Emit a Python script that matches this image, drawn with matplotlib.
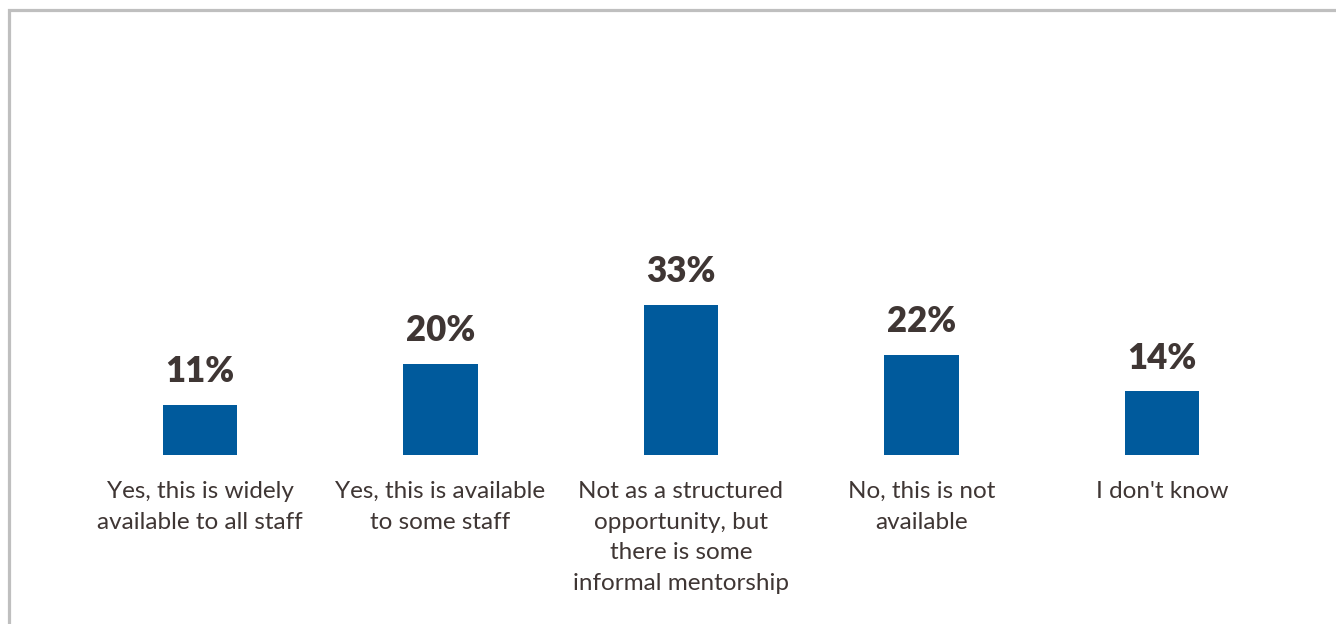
import matplotlib.pyplot as plt
from matplotlib.patches import Rectangle

categories = [
    "Yes, this is widely\navailable to all staff",
    "Yes, this is available\nto some staff",
    "Not as a structured\nopportunity, but\nthere is some\ninformal mentorship",
    "No, this is not\navailable",
    "I don't know",
]
values = [11, 20, 33, 22, 14]

bar_color = "#005A9C"
text_color = "#3F3634"

W, H = 1336, 624
fig = plt.figure(figsize=(W / 100, H / 100), dpi=100)
plt.rcParams['font.family'] = ['Lato', 'DejaVu Sans']

# axes placed in pixel terms: baseline at y=455, slots 240.5 px wide
ax_left = 200 - 240.5 / 2
ax_width = 240.5 * 5
ax_bottom = H - 455
ax_top = H - 30
ax = fig.add_axes([ax_left / W, ax_bottom / H, ax_width / W, (ax_top - ax_bottom) / H])

x = range(len(categories))
bars = ax.bar(x, values, width=0.31, color=bar_color)
ax.set_xlim(-0.5, 4.5)
ax.set_ylim(0, (455 - 30) / 4.55)

for rect, v in zip(bars, values):
    ax.annotate(f"{v}%", (rect.get_x() + rect.get_width() / 2, v),
                xytext=(0, 12), textcoords="offset points",
                ha="center", va="bottom", fontsize=25, fontweight="heavy",
                color=text_color)

ax.set_xticks(list(x))
ax.set_xticklabels(categories, fontsize=17.5, color=text_color, linespacing=1.58, va="top")
ax.tick_params(axis="x", length=0, pad=18.5)
ax.set_yticks([])
for s in ax.spines.values():
    s.set_visible(False)

# light grey frame around the chart area
fig.patches.append(Rectangle((8.5 / W, -0.1), 1.2, (H - 9.5) / H + 0.1,
                             transform=fig.transFigure, fill=False,
                             edgecolor="#BFBFBF", linewidth=2.3))

fig.savefig("out.png", dpi=100)
